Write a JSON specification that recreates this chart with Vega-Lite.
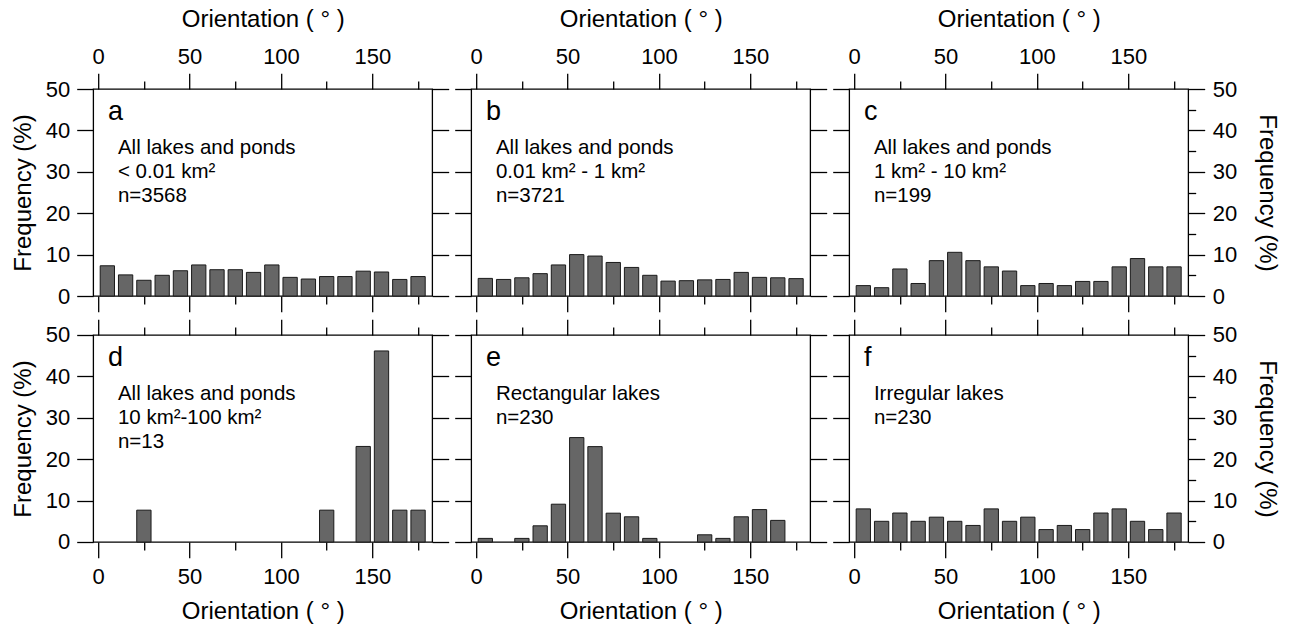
{
"$schema": "https://vega.github.io/schema/vega-lite/v6.json",
"background": "white",
"padding": {"left": 10.2, "top": 6, "right": 5, "bottom": 5},
"datasets": {
"a": [{"orientation":5,"frequency":7.3},{"orientation":15,"frequency":5.1},{"orientation":25,"frequency":3.8},{"orientation":35,"frequency":5.0},{"orientation":45,"frequency":6.1},{"orientation":55,"frequency":7.5},{"orientation":65,"frequency":6.35},{"orientation":75,"frequency":6.35},{"orientation":85,"frequency":5.7},{"orientation":95,"frequency":7.5},{"orientation":105,"frequency":4.5},{"orientation":115,"frequency":4.1},{"orientation":125,"frequency":4.7},{"orientation":135,"frequency":4.7},{"orientation":145,"frequency":6.0},{"orientation":155,"frequency":5.8},{"orientation":165,"frequency":4.0},{"orientation":175,"frequency":4.7}],
"b": [{"orientation":5,"frequency":4.25},{"orientation":15,"frequency":4.0},{"orientation":25,"frequency":4.4},{"orientation":35,"frequency":5.4},{"orientation":45,"frequency":7.5},{"orientation":55,"frequency":10.0},{"orientation":65,"frequency":9.65},{"orientation":75,"frequency":8.1},{"orientation":85,"frequency":6.9},{"orientation":95,"frequency":5.0},{"orientation":105,"frequency":3.6},{"orientation":115,"frequency":3.7},{"orientation":125,"frequency":3.9},{"orientation":135,"frequency":4.0},{"orientation":145,"frequency":5.7},{"orientation":155,"frequency":4.5},{"orientation":165,"frequency":4.4},{"orientation":175,"frequency":4.2}],
"c": [{"orientation":5,"frequency":2.51},{"orientation":15,"frequency":2.01},{"orientation":25,"frequency":6.53},{"orientation":35,"frequency":3.02},{"orientation":45,"frequency":8.54},{"orientation":55,"frequency":10.55},{"orientation":65,"frequency":8.54},{"orientation":75,"frequency":7.04},{"orientation":85,"frequency":6.03},{"orientation":95,"frequency":2.51},{"orientation":105,"frequency":3.02},{"orientation":115,"frequency":2.51},{"orientation":125,"frequency":3.52},{"orientation":135,"frequency":3.52},{"orientation":145,"frequency":7.04},{"orientation":155,"frequency":9.05},{"orientation":165,"frequency":7.04},{"orientation":175,"frequency":7.04}],
"d": [{"orientation":25,"frequency":7.69},{"orientation":125,"frequency":7.69},{"orientation":145,"frequency":23.08},{"orientation":155,"frequency":46.15},{"orientation":165,"frequency":7.69},{"orientation":175,"frequency":7.69}],
"e": [{"orientation":5,"frequency":0.87},{"orientation":25,"frequency":0.87},{"orientation":35,"frequency":3.91},{"orientation":45,"frequency":9.13},{"orientation":55,"frequency":25.22},{"orientation":65,"frequency":23.04},{"orientation":75,"frequency":6.96},{"orientation":85,"frequency":6.09},{"orientation":95,"frequency":0.87},{"orientation":125,"frequency":1.74},{"orientation":135,"frequency":0.87},{"orientation":145,"frequency":6.09},{"orientation":155,"frequency":7.83},{"orientation":165,"frequency":5.22}],
"f": [{"orientation":5,"frequency":8},{"orientation":15,"frequency":5},{"orientation":25,"frequency":7},{"orientation":35,"frequency":5},{"orientation":45,"frequency":6},{"orientation":55,"frequency":5},{"orientation":65,"frequency":4},{"orientation":75,"frequency":8},{"orientation":85,"frequency":5},{"orientation":95,"frequency":6},{"orientation":105,"frequency":3},{"orientation":115,"frequency":4},{"orientation":125,"frequency":3},{"orientation":135,"frequency":7},{"orientation":145,"frequency":8},{"orientation":155,"frequency":5},{"orientation":165,"frequency":3},{"orientation":175,"frequency":7}]
},
"columns": 3,
"spacing": {"row": 39, "column": 39},
"bounds": "flush",
"concat": [
{
"width": 339, "height": 207,
"data": {"name": "a"},
"resolve": {"axis": {"x": "independent", "y": "independent"}},
"layer": [
{"mark": {"type": "bar", "width": 14.3, "fill": "#666666", "stroke": "#1a1a1a", "strokeWidth": 1},
 "encoding": {
  "x": {"field": "orientation", "type": "quantitative", "scale": {"domain": [0,180], "nice": false, "zero": false}, "axis": {"orient": "top", "values": [0,50,100,150], "tickSize": 15.7, "labelPadding": 5, "title": "Orientation ( ° )", "titlePadding": 14}},
  "y": {"field": "frequency", "type": "quantitative", "scale": {"domain": [0,50], "nice": false}, "axis": {"orient": "left", "values": [0,10,20,30,40,50], "tickSize": 16.5, "labelPadding": 7, "title": "Frequency (%)", "titlePadding": 9.5}}}},
{"mark": {"type": "bar", "width": 14.3, "opacity": 0},
 "encoding": {
  "x": {"field": "orientation", "type": "quantitative", "scale": {"domain": [0,180], "nice": false, "zero": false}, "axis": {"orient": "top", "values": [25,75,125,175], "tickSize": 8, "labels": false, "title": null}},
  "y": {"field": "frequency", "type": "quantitative", "scale": {"domain": [0,50], "nice": false}, "axis": {"orient": "right", "values": [0,10,20,30,40,50], "tickSize": 16.5, "labels": false, "title": null}}}},
{"mark": {"type": "bar", "width": 14.3, "opacity": 0},
 "encoding": {
  "x": {"field": "orientation", "type": "quantitative", "scale": {"domain": [0,180], "nice": false, "zero": false}, "axis": {"orient": "bottom", "values": [0,50,100,150], "tickSize": 15.7, "labels": false, "title": null}},
  "y": {"field": "frequency", "type": "quantitative", "scale": {"domain": [0,50], "nice": false}, "axis": null}}},
{"mark": {"type": "bar", "width": 14.3, "opacity": 0},
 "encoding": {
  "x": {"field": "orientation", "type": "quantitative", "scale": {"domain": [0,180], "nice": false, "zero": false}, "axis": {"orient": "bottom", "values": [25,75,125,175], "tickSize": 8, "labels": false, "title": null}},
  "y": {"field": "frequency", "type": "quantitative", "scale": {"domain": [0,50], "nice": false}, "axis": null}}},
{"data": {"values": [{"t": "a"}]},
 "mark": {"type": "text", "align": "left", "baseline": "alphabetic", "fontSize": 27, "font": "Liberation Sans", "color": "#000"},
 "encoding": {"x": {"datum": 5.4, "type": "quantitative", "scale": {"domain": [0,180], "nice": false, "zero": false}, "axis": null}, "y": {"datum": 42.6, "type": "quantitative", "scale": {"domain": [0,50], "nice": false}, "axis": null}, "text": {"field": "t"}}},
{"data": {"values": [{"t": "All lakes and ponds|< 0.01 km²|n=3568"}]},
 "mark": {"type": "text", "align": "left", "baseline": "alphabetic", "fontSize": 20.5, "font": "Liberation Sans", "color": "#000", "lineBreak": "|", "lineHeight": 24},
 "encoding": {"x": {"datum": 10.8, "type": "quantitative", "scale": {"domain": [0,180], "nice": false, "zero": false}, "axis": null}, "y": {"datum": 34.3, "type": "quantitative", "scale": {"domain": [0,50], "nice": false}, "axis": null}, "text": {"field": "t"}}}
]
},
{
"width": 339, "height": 207,
"data": {"name": "b"},
"resolve": {"axis": {"x": "independent", "y": "independent"}},
"layer": [
{"mark": {"type": "bar", "width": 14.3, "fill": "#666666", "stroke": "#1a1a1a", "strokeWidth": 1},
 "encoding": {
  "x": {"field": "orientation", "type": "quantitative", "scale": {"domain": [0,180], "nice": false, "zero": false}, "axis": {"orient": "top", "values": [0,50,100,150], "tickSize": 15.7, "labelPadding": 5, "title": "Orientation ( ° )", "titlePadding": 14}},
  "y": {"field": "frequency", "type": "quantitative", "scale": {"domain": [0,50], "nice": false}, "axis": {"orient": "left", "values": [0,10,20,30,40,50], "tickSize": 16.5, "labels": false, "title": null}}}},
{"mark": {"type": "bar", "width": 14.3, "opacity": 0},
 "encoding": {
  "x": {"field": "orientation", "type": "quantitative", "scale": {"domain": [0,180], "nice": false, "zero": false}, "axis": {"orient": "top", "values": [25,75,125,175], "tickSize": 8, "labels": false, "title": null}},
  "y": {"field": "frequency", "type": "quantitative", "scale": {"domain": [0,50], "nice": false}, "axis": {"orient": "right", "values": [0,10,20,30,40,50], "tickSize": 16.5, "labels": false, "title": null}}}},
{"mark": {"type": "bar", "width": 14.3, "opacity": 0},
 "encoding": {
  "x": {"field": "orientation", "type": "quantitative", "scale": {"domain": [0,180], "nice": false, "zero": false}, "axis": {"orient": "bottom", "values": [0,50,100,150], "tickSize": 15.7, "labels": false, "title": null}},
  "y": {"field": "frequency", "type": "quantitative", "scale": {"domain": [0,50], "nice": false}, "axis": null}}},
{"mark": {"type": "bar", "width": 14.3, "opacity": 0},
 "encoding": {
  "x": {"field": "orientation", "type": "quantitative", "scale": {"domain": [0,180], "nice": false, "zero": false}, "axis": {"orient": "bottom", "values": [25,75,125,175], "tickSize": 8, "labels": false, "title": null}},
  "y": {"field": "frequency", "type": "quantitative", "scale": {"domain": [0,50], "nice": false}, "axis": null}}},
{"data": {"values": [{"t": "b"}]},
 "mark": {"type": "text", "align": "left", "baseline": "alphabetic", "fontSize": 27, "font": "Liberation Sans", "color": "#000"},
 "encoding": {"x": {"datum": 5.4, "type": "quantitative", "scale": {"domain": [0,180], "nice": false, "zero": false}, "axis": null}, "y": {"datum": 42.6, "type": "quantitative", "scale": {"domain": [0,50], "nice": false}, "axis": null}, "text": {"field": "t"}}},
{"data": {"values": [{"t": "All lakes and ponds|0.01 km² - 1 km²|n=3721"}]},
 "mark": {"type": "text", "align": "left", "baseline": "alphabetic", "fontSize": 20.5, "font": "Liberation Sans", "color": "#000", "lineBreak": "|", "lineHeight": 24},
 "encoding": {"x": {"datum": 10.8, "type": "quantitative", "scale": {"domain": [0,180], "nice": false, "zero": false}, "axis": null}, "y": {"datum": 34.3, "type": "quantitative", "scale": {"domain": [0,50], "nice": false}, "axis": null}, "text": {"field": "t"}}}
]
},
{
"width": 339, "height": 207,
"data": {"name": "c"},
"resolve": {"axis": {"x": "independent", "y": "independent"}},
"layer": [
{"mark": {"type": "bar", "width": 14.3, "fill": "#666666", "stroke": "#1a1a1a", "strokeWidth": 1},
 "encoding": {
  "x": {"field": "orientation", "type": "quantitative", "scale": {"domain": [0,180], "nice": false, "zero": false}, "axis": {"orient": "top", "values": [0,50,100,150], "tickSize": 15.7, "labelPadding": 5, "title": "Orientation ( ° )", "titlePadding": 14}},
  "y": {"field": "frequency", "type": "quantitative", "scale": {"domain": [0,50], "nice": false}, "axis": {"orient": "left", "values": [0,10,20,30,40,50], "tickSize": 16.5, "labels": false, "title": null}}}},
{"mark": {"type": "bar", "width": 14.3, "opacity": 0},
 "encoding": {
  "x": {"field": "orientation", "type": "quantitative", "scale": {"domain": [0,180], "nice": false, "zero": false}, "axis": {"orient": "top", "values": [25,75,125,175], "tickSize": 8, "labels": false, "title": null}},
  "y": {"field": "frequency", "type": "quantitative", "scale": {"domain": [0,50], "nice": false}, "axis": {"orient": "right", "values": [0,10,20,30,40,50], "tickSize": 16.5, "labelPadding": 7.5, "title": "Frequency (%)", "titlePadding": 18}}}},
{"mark": {"type": "bar", "width": 14.3, "opacity": 0},
 "encoding": {
  "x": {"field": "orientation", "type": "quantitative", "scale": {"domain": [0,180], "nice": false, "zero": false}, "axis": {"orient": "bottom", "values": [0,50,100,150], "tickSize": 15.7, "labels": false, "title": null}},
  "y": {"field": "frequency", "type": "quantitative", "scale": {"domain": [0,50], "nice": false}, "axis": {"orient": "right", "values": [5,15,25,35,45], "tickSize": 7.5, "labels": false, "title": null}}}},
{"mark": {"type": "bar", "width": 14.3, "opacity": 0},
 "encoding": {
  "x": {"field": "orientation", "type": "quantitative", "scale": {"domain": [0,180], "nice": false, "zero": false}, "axis": {"orient": "bottom", "values": [25,75,125,175], "tickSize": 8, "labels": false, "title": null}},
  "y": {"field": "frequency", "type": "quantitative", "scale": {"domain": [0,50], "nice": false}, "axis": null}}},
{"data": {"values": [{"t": "c"}]},
 "mark": {"type": "text", "align": "left", "baseline": "alphabetic", "fontSize": 27, "font": "Liberation Sans", "color": "#000"},
 "encoding": {"x": {"datum": 5.4, "type": "quantitative", "scale": {"domain": [0,180], "nice": false, "zero": false}, "axis": null}, "y": {"datum": 42.6, "type": "quantitative", "scale": {"domain": [0,50], "nice": false}, "axis": null}, "text": {"field": "t"}}},
{"data": {"values": [{"t": "All lakes and ponds|1 km² - 10  km²|n=199"}]},
 "mark": {"type": "text", "align": "left", "baseline": "alphabetic", "fontSize": 20.5, "font": "Liberation Sans", "color": "#000", "lineBreak": "|", "lineHeight": 24},
 "encoding": {"x": {"datum": 10.8, "type": "quantitative", "scale": {"domain": [0,180], "nice": false, "zero": false}, "axis": null}, "y": {"datum": 34.3, "type": "quantitative", "scale": {"domain": [0,50], "nice": false}, "axis": null}, "text": {"field": "t"}}}
]
},
{
"width": 339, "height": 207,
"data": {"name": "d"},
"resolve": {"axis": {"x": "independent", "y": "independent"}},
"layer": [
{"mark": {"type": "bar", "width": 14.3, "fill": "#666666", "stroke": "#1a1a1a", "strokeWidth": 1},
 "encoding": {
  "x": {"field": "orientation", "type": "quantitative", "scale": {"domain": [0,180], "nice": false, "zero": false}, "axis": {"orient": "top", "values": [0,50,100,150], "tickSize": 15.7, "labels": false, "title": null}},
  "y": {"field": "frequency", "type": "quantitative", "scale": {"domain": [0,50], "nice": false}, "axis": {"orient": "left", "values": [0,10,20,30,40,50], "tickSize": 16.5, "labelPadding": 7, "title": "Frequency (%)", "titlePadding": 9.5}}}},
{"mark": {"type": "bar", "width": 14.3, "opacity": 0},
 "encoding": {
  "x": {"field": "orientation", "type": "quantitative", "scale": {"domain": [0,180], "nice": false, "zero": false}, "axis": {"orient": "top", "values": [25,75,125,175], "tickSize": 8, "labels": false, "title": null}},
  "y": {"field": "frequency", "type": "quantitative", "scale": {"domain": [0,50], "nice": false}, "axis": {"orient": "right", "values": [0,10,20,30,40,50], "tickSize": 16.5, "labels": false, "title": null}}}},
{"mark": {"type": "bar", "width": 14.3, "opacity": 0},
 "encoding": {
  "x": {"field": "orientation", "type": "quantitative", "scale": {"domain": [0,180], "nice": false, "zero": false}, "axis": {"orient": "bottom", "values": [0,50,100,150], "tickSize": 15.7, "labelPadding": 9, "title": "Orientation ( ° )", "titlePadding": 12}},
  "y": {"field": "frequency", "type": "quantitative", "scale": {"domain": [0,50], "nice": false}, "axis": null}}},
{"mark": {"type": "bar", "width": 14.3, "opacity": 0},
 "encoding": {
  "x": {"field": "orientation", "type": "quantitative", "scale": {"domain": [0,180], "nice": false, "zero": false}, "axis": {"orient": "bottom", "values": [25,75,125,175], "tickSize": 8, "labels": false, "title": null}},
  "y": {"field": "frequency", "type": "quantitative", "scale": {"domain": [0,50], "nice": false}, "axis": null}}},
{"data": {"values": [{"t": "d"}]},
 "mark": {"type": "text", "align": "left", "baseline": "alphabetic", "fontSize": 27, "font": "Liberation Sans", "color": "#000"},
 "encoding": {"x": {"datum": 5.4, "type": "quantitative", "scale": {"domain": [0,180], "nice": false, "zero": false}, "axis": null}, "y": {"datum": 42.6, "type": "quantitative", "scale": {"domain": [0,50], "nice": false}, "axis": null}, "text": {"field": "t"}}},
{"data": {"values": [{"t": "All lakes and ponds|10 km²-100 km²|n=13"}]},
 "mark": {"type": "text", "align": "left", "baseline": "alphabetic", "fontSize": 20.5, "font": "Liberation Sans", "color": "#000", "lineBreak": "|", "lineHeight": 24},
 "encoding": {"x": {"datum": 10.8, "type": "quantitative", "scale": {"domain": [0,180], "nice": false, "zero": false}, "axis": null}, "y": {"datum": 34.3, "type": "quantitative", "scale": {"domain": [0,50], "nice": false}, "axis": null}, "text": {"field": "t"}}}
]
},
{
"width": 339, "height": 207,
"data": {"name": "e"},
"resolve": {"axis": {"x": "independent", "y": "independent"}},
"layer": [
{"mark": {"type": "bar", "width": 14.3, "fill": "#666666", "stroke": "#1a1a1a", "strokeWidth": 1},
 "encoding": {
  "x": {"field": "orientation", "type": "quantitative", "scale": {"domain": [0,180], "nice": false, "zero": false}, "axis": {"orient": "top", "values": [0,50,100,150], "tickSize": 15.7, "labels": false, "title": null}},
  "y": {"field": "frequency", "type": "quantitative", "scale": {"domain": [0,50], "nice": false}, "axis": {"orient": "left", "values": [0,10,20,30,40,50], "tickSize": 16.5, "labels": false, "title": null}}}},
{"mark": {"type": "bar", "width": 14.3, "opacity": 0},
 "encoding": {
  "x": {"field": "orientation", "type": "quantitative", "scale": {"domain": [0,180], "nice": false, "zero": false}, "axis": {"orient": "top", "values": [25,75,125,175], "tickSize": 8, "labels": false, "title": null}},
  "y": {"field": "frequency", "type": "quantitative", "scale": {"domain": [0,50], "nice": false}, "axis": {"orient": "right", "values": [0,10,20,30,40,50], "tickSize": 16.5, "labels": false, "title": null}}}},
{"mark": {"type": "bar", "width": 14.3, "opacity": 0},
 "encoding": {
  "x": {"field": "orientation", "type": "quantitative", "scale": {"domain": [0,180], "nice": false, "zero": false}, "axis": {"orient": "bottom", "values": [0,50,100,150], "tickSize": 15.7, "labelPadding": 9, "title": "Orientation ( ° )", "titlePadding": 12}},
  "y": {"field": "frequency", "type": "quantitative", "scale": {"domain": [0,50], "nice": false}, "axis": null}}},
{"mark": {"type": "bar", "width": 14.3, "opacity": 0},
 "encoding": {
  "x": {"field": "orientation", "type": "quantitative", "scale": {"domain": [0,180], "nice": false, "zero": false}, "axis": {"orient": "bottom", "values": [25,75,125,175], "tickSize": 8, "labels": false, "title": null}},
  "y": {"field": "frequency", "type": "quantitative", "scale": {"domain": [0,50], "nice": false}, "axis": null}}},
{"data": {"values": [{"t": "e"}]},
 "mark": {"type": "text", "align": "left", "baseline": "alphabetic", "fontSize": 27, "font": "Liberation Sans", "color": "#000"},
 "encoding": {"x": {"datum": 5.4, "type": "quantitative", "scale": {"domain": [0,180], "nice": false, "zero": false}, "axis": null}, "y": {"datum": 42.6, "type": "quantitative", "scale": {"domain": [0,50], "nice": false}, "axis": null}, "text": {"field": "t"}}},
{"data": {"values": [{"t": "Rectangular lakes|n=230"}]},
 "mark": {"type": "text", "align": "left", "baseline": "alphabetic", "fontSize": 20.5, "font": "Liberation Sans", "color": "#000", "lineBreak": "|", "lineHeight": 24},
 "encoding": {"x": {"datum": 10.8, "type": "quantitative", "scale": {"domain": [0,180], "nice": false, "zero": false}, "axis": null}, "y": {"datum": 34.3, "type": "quantitative", "scale": {"domain": [0,50], "nice": false}, "axis": null}, "text": {"field": "t"}}}
]
},
{
"width": 339, "height": 207,
"data": {"name": "f"},
"resolve": {"axis": {"x": "independent", "y": "independent"}},
"layer": [
{"mark": {"type": "bar", "width": 14.3, "fill": "#666666", "stroke": "#1a1a1a", "strokeWidth": 1},
 "encoding": {
  "x": {"field": "orientation", "type": "quantitative", "scale": {"domain": [0,180], "nice": false, "zero": false}, "axis": {"orient": "top", "values": [0,50,100,150], "tickSize": 15.7, "labels": false, "title": null}},
  "y": {"field": "frequency", "type": "quantitative", "scale": {"domain": [0,50], "nice": false}, "axis": {"orient": "left", "values": [0,10,20,30,40,50], "tickSize": 16.5, "labels": false, "title": null}}}},
{"mark": {"type": "bar", "width": 14.3, "opacity": 0},
 "encoding": {
  "x": {"field": "orientation", "type": "quantitative", "scale": {"domain": [0,180], "nice": false, "zero": false}, "axis": {"orient": "top", "values": [25,75,125,175], "tickSize": 8, "labels": false, "title": null}},
  "y": {"field": "frequency", "type": "quantitative", "scale": {"domain": [0,50], "nice": false}, "axis": {"orient": "right", "values": [0,10,20,30,40,50], "tickSize": 16.5, "labelPadding": 7.5, "title": "Frequency (%)", "titlePadding": 18}}}},
{"mark": {"type": "bar", "width": 14.3, "opacity": 0},
 "encoding": {
  "x": {"field": "orientation", "type": "quantitative", "scale": {"domain": [0,180], "nice": false, "zero": false}, "axis": {"orient": "bottom", "values": [0,50,100,150], "tickSize": 15.7, "labelPadding": 9, "title": "Orientation ( ° )", "titlePadding": 12}},
  "y": {"field": "frequency", "type": "quantitative", "scale": {"domain": [0,50], "nice": false}, "axis": {"orient": "right", "values": [5,15,25,35,45], "tickSize": 7.5, "labels": false, "title": null}}}},
{"mark": {"type": "bar", "width": 14.3, "opacity": 0},
 "encoding": {
  "x": {"field": "orientation", "type": "quantitative", "scale": {"domain": [0,180], "nice": false, "zero": false}, "axis": {"orient": "bottom", "values": [25,75,125,175], "tickSize": 8, "labels": false, "title": null}},
  "y": {"field": "frequency", "type": "quantitative", "scale": {"domain": [0,50], "nice": false}, "axis": null}}},
{"data": {"values": [{"t": "f"}]},
 "mark": {"type": "text", "align": "left", "baseline": "alphabetic", "fontSize": 27, "font": "Liberation Sans", "color": "#000"},
 "encoding": {"x": {"datum": 5.4, "type": "quantitative", "scale": {"domain": [0,180], "nice": false, "zero": false}, "axis": null}, "y": {"datum": 42.6, "type": "quantitative", "scale": {"domain": [0,50], "nice": false}, "axis": null}, "text": {"field": "t"}}},
{"data": {"values": [{"t": "Irregular lakes|n=230"}]},
 "mark": {"type": "text", "align": "left", "baseline": "alphabetic", "fontSize": 20.5, "font": "Liberation Sans", "color": "#000", "lineBreak": "|", "lineHeight": 24},
 "encoding": {"x": {"datum": 10.8, "type": "quantitative", "scale": {"domain": [0,180], "nice": false, "zero": false}, "axis": null}, "y": {"datum": 34.3, "type": "quantitative", "scale": {"domain": [0,50], "nice": false}, "axis": null}, "text": {"field": "t"}}}
]
}
],
"config": {
"view": {"stroke": "#000000", "strokeWidth": 1.3},
"font": "Liberation Sans",
"axis": {"domain": false, "grid": false, "ticks": true, "tickColor": "#000000", "tickWidth": 1.3, "labelFlush": false, "labelBound": false, "labelOverlap": false, "labelFont": "Liberation Sans", "labelFontSize": 22, "labelColor": "#000000", "titleFont": "Liberation Sans", "titleFontSize": 24, "titleFontWeight": "normal", "titleColor": "#000000"}
}
}
